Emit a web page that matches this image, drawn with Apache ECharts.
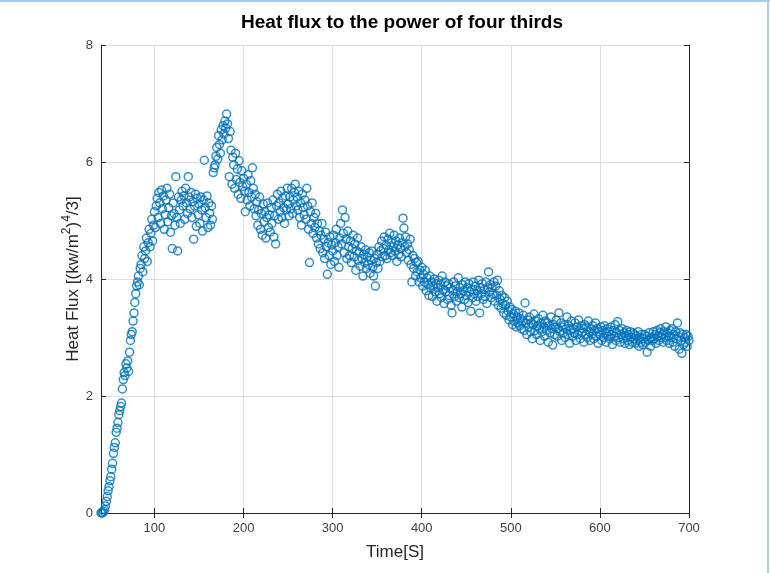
<!DOCTYPE html>
<html>
<head>
<meta charset="utf-8">
<script src="https://cdn.jsdelivr.net/npm/echarts@6/dist/echarts.min.js"></script>
<style>
html,body{margin:0;padding:0;background:#fff;}
#chart{width:770px;height:573px;}
</style>
</head>
<body>
<div id="chart"></div>
<script>
// Sampling: one reading per second, starting at t = 40 s
const timeStart = 40;
const timeStep = 1;

// Heat flux^(4/3) readings, t = 40 .. 700 s (one row = 10 s)
const heatFlux = [
  0.00, 0.01, 0.00, 0.03, 0.06, 0.12, 0.20, 0.28, 0.38, 0.45,
  0.55, 0.62, 0.75, 0.85, 1.02, 1.12, 1.20, 1.38, 1.45, 1.55,
  1.68, 1.75, 1.82, 1.88, 2.12, 2.28, 2.40, 2.35, 2.55, 2.48,
  2.60, 2.42, 2.75, 2.95, 3.05, 3.10, 3.28, 3.42, 3.60, 3.75,
  3.88, 3.95, 4.05, 3.90, 4.18, 4.25, 4.40, 4.12, 4.55, 4.35,
  4.48, 4.70, 4.30, 4.62, 4.85, 4.55, 4.78, 5.02, 4.65, 4.92,
  5.15, 4.88, 5.25, 5.38, 5.05, 5.48, 5.30, 4.95, 5.52, 5.20,
  5.42, 4.85, 5.10, 5.35, 5.55, 4.98, 5.22, 5.45, 4.80, 5.08,
  4.52, 5.30, 5.12, 4.92, 5.75, 5.05, 4.48, 5.40, 5.18, 4.95,
  5.35, 5.50, 5.25, 5.42, 5.02, 5.55, 5.30, 5.12, 5.75, 5.40,
  5.20, 5.48, 5.05, 5.32, 4.68, 5.25, 5.45, 4.90, 5.38, 5.10,
  5.28, 4.95, 5.40, 5.18, 4.82, 5.35, 6.03, 5.22, 5.05, 5.42,
  4.88, 5.30, 5.12, 4.92, 5.25, 5.02, 5.82, 5.90, 5.95, 6.10,
  6.25, 6.05, 6.45, 6.30, 6.15, 6.55, 6.38, 6.62, 6.48, 6.70,
  6.58, 6.82, 6.65, 6.40, 5.75, 6.52, 6.20, 5.62, 6.08, 5.95,
  5.55, 6.15, 5.70, 5.88, 5.45, 6.02, 5.65, 5.38, 5.85, 5.58,
  5.72, 5.50, 5.15, 5.62, 5.35, 5.78, 5.48, 5.25, 5.68, 5.40,
  5.90, 5.55, 5.20, 5.45, 5.08, 5.32, 4.92, 5.18, 5.40, 4.85,
  5.12, 4.75, 5.28, 4.98, 5.15, 4.70, 5.05, 5.30, 4.88, 5.10,
  4.80, 5.22, 4.95, 5.35, 4.72, 5.08, 4.60, 5.25, 5.45, 5.02,
  5.30, 5.15, 5.50, 5.05, 5.38, 5.22, 4.95, 5.42, 5.18, 5.55,
  5.28, 5.08, 5.40, 5.20, 5.55, 5.12, 5.35, 5.48, 5.62, 5.25,
  5.40, 5.18, 5.50, 5.05, 5.30, 4.92, 5.45, 5.22, 5.10, 5.35,
  5.02, 5.55, 5.25, 4.85, 4.28, 5.15, 4.95, 5.30, 4.78, 5.05,
  4.88, 5.12, 4.70, 4.95, 4.60, 4.82, 4.52, 4.75, 4.95, 4.45,
  4.68, 4.35, 4.80, 4.55, 4.08, 4.62, 4.40, 4.72, 4.25, 4.58,
  4.48, 4.75, 4.30, 4.62, 4.85, 4.40, 4.55, 4.20, 4.70, 4.95,
  4.60, 5.18, 4.78, 4.45, 5.05, 4.68, 4.35, 4.82, 4.55, 4.40,
  4.65, 4.28, 4.52, 4.75, 4.38, 4.60, 4.15, 4.48, 4.70, 4.32,
  4.45, 4.22, 4.55, 4.35, 4.05, 4.42, 4.28, 4.50, 4.18, 4.38,
  4.25, 4.45, 4.10, 4.32, 4.48, 4.20, 4.05, 4.35, 3.88, 4.28,
  4.42, 4.18, 4.55, 4.30, 4.48, 4.65, 4.38, 4.52, 4.72, 4.40,
  4.58, 4.35, 4.68, 4.50, 4.78, 4.45, 4.62, 4.40, 4.55, 4.75,
  4.48, 4.65, 4.30, 4.58, 4.42, 4.70, 4.52, 4.38, 4.62, 5.04,
  4.87, 4.55, 4.72, 4.45, 4.60, 4.32, 4.50, 4.68, 4.25, 3.95,
  4.40, 4.18, 4.35, 4.05, 4.28, 4.12, 4.30, 3.95, 4.15, 4.02,
  4.20, 3.88, 4.08, 3.95, 4.15, 3.80, 4.02, 3.90, 3.72, 4.05,
  3.85, 3.95, 3.70, 3.88, 4.00, 3.78, 3.92, 3.62, 3.85, 3.98,
  3.75, 3.90, 3.68, 4.05, 3.82, 3.58, 3.95, 3.78, 3.88, 3.65,
  3.92, 3.72, 3.85, 3.55, 3.42, 3.80, 3.95, 3.70, 3.88, 3.62,
  3.78, 4.02, 3.68, 3.85, 3.75, 3.52, 3.90, 3.80, 3.65, 3.95,
  3.72, 3.85, 3.60, 3.92, 3.78, 3.45, 3.82, 3.68, 3.95, 3.75,
  3.88, 3.62, 3.80, 3.70, 3.98, 3.42, 3.85, 3.75, 3.92, 3.65,
  3.82, 3.70, 3.95, 3.58, 3.85, 4.12, 3.78, 3.90, 3.68, 3.85,
  3.75, 3.95, 3.62, 3.88, 3.72, 3.98, 3.55, 3.80, 3.65, 3.50,
  3.72, 3.58, 3.42, 3.68, 3.55, 3.38, 3.62, 3.45, 3.30, 3.52,
  3.35, 3.48, 3.22, 3.40, 3.28, 3.45, 3.18, 3.35, 3.25, 3.42,
  3.20, 3.32, 3.15, 3.28, 3.38, 3.12, 3.59, 3.25, 3.05, 3.30,
  3.18, 3.35, 3.10, 3.25, 2.98, 3.22, 3.40, 3.12, 3.28, 3.05,
  3.20, 3.32, 3.15, 2.95, 3.25, 3.10, 3.38, 3.18, 3.02, 3.28,
  3.12, 3.25, 2.92, 3.20, 3.08, 3.35, 3.15, 2.87, 3.22, 3.05,
  3.18, 3.30, 3.02, 3.15, 3.42, 3.10, 3.25, 2.95, 3.18, 3.08,
  3.22, 3.00, 3.15, 3.35, 3.05, 3.20, 2.90, 3.12, 3.28, 3.02,
  3.15, 3.08, 3.25, 2.95, 3.18, 3.05, 3.30, 3.12, 2.98, 3.20,
  3.08, 3.15, 2.92, 3.22, 3.05, 3.18, 3.00, 3.28, 3.10, 2.95,
  3.15, 3.05, 3.20, 2.98, 3.12, 3.25, 3.02, 3.15, 2.90, 3.10,
  3.05, 3.18, 2.95, 3.12, 3.00, 3.20, 3.08, 2.92, 3.15, 3.02,
  3.10, 2.98, 3.18, 3.05, 2.88, 3.12, 3.02, 3.22, 2.95, 3.08,
  3.27, 3.00, 3.12, 2.92, 3.05, 3.15, 2.98, 3.08, 2.90, 3.02,
  3.12, 2.95, 3.05, 2.88, 3.10, 3.00, 2.92, 3.08, 2.98, 3.05,
  2.90, 3.02, 2.95, 3.10, 2.85, 3.00, 2.92, 3.05, 2.88, 2.98,
  3.05, 2.92, 3.02, 2.75, 2.95, 3.08, 2.98, 2.85, 3.00, 2.95,
  3.10, 2.98, 3.05, 2.90, 3.12, 3.02, 2.95, 3.08, 3.15, 3.00,
  3.05, 2.92, 3.10, 3.00, 3.18, 2.95, 3.08, 3.02, 2.90, 3.12,
  3.00, 3.15, 2.92, 3.05, 2.85, 3.10, 2.98, 3.25, 3.02, 2.80,
  3.08, 2.95, 2.73, 3.05, 2.88, 3.00, 2.92, 3.05, 2.85, 3.02,
  2.95
];

const xTickValues = [100, 200, 300, 400, 500, 600, 700];
const xMin = 40, xMax = 700;
const yMin = 0, yMax = 8, yStep = 2;

const titleText = 'Heat flux to the power of four thirds';
const xName = 'Time[S]';
const yName = 'Heat Flux [(kw/m{s|2}){s|4}/3]';

const points = heatFlux.map((v, i) => [timeStart + i * timeStep, v]);

const axisColor = '#262626';
const gridColor = '#dedede';
const labelColor = '#404040';
const font = 'Liberation Sans, Arial, Helvetica, sans-serif';

const chart = echarts.init(document.getElementById('chart'), null, {renderer: 'canvas'});
chart.setOption({
  backgroundColor: '#ffffff',
  animation: false,
  title: {
    text: titleText,
    left: 397,
    textAlign: 'center',
    top: 8,
    textStyle: {fontFamily: font, fontSize: 19, fontWeight: 'bold', color: '#000'}
  },
  grid: {left: 101, right: 81, top: 45, bottom: 60, show: false},
  xAxis: [
    {
      type: 'value', min: xMin, max: xMax, position: 'bottom',
      name: xName, nameLocation: 'middle', nameGap: 31, nameMoveOverlap: false,
      nameTextStyle: {fontFamily: font, fontSize: 17, color: axisColor},
      axisLine: {show: true, lineStyle: {color: axisColor, width: 1}},
      axisTick: {show: true, inside: true, length: 5, customValues: xTickValues, lineStyle: {color: axisColor}},
      axisLabel: {customValues: xTickValues, color: labelColor, fontFamily: font, fontSize: 13, margin: 9},
      splitLine: {show: true, lineStyle: {color: gridColor, width: 1}}
    },
    {
      type: 'value', min: xMin, max: xMax, position: 'top',
      axisLine: {show: true, lineStyle: {color: axisColor, width: 1}},
      axisTick: {show: true, inside: true, length: 5, customValues: xTickValues, lineStyle: {color: axisColor}},
      axisLabel: {show: false},
      splitLine: {show: false}
    }
  ],
  yAxis: [
    {
      type: 'value', min: yMin, max: yMax, interval: yStep, position: 'left',
      name: yName, nameLocation: 'middle', nameGap: 16, nameMoveOverlap: false,
      nameTextStyle: {
        fontFamily: font, fontSize: 17, color: axisColor, lineHeight: 24,
        rich: {s: {fontFamily: font, fontSize: 12, color: axisColor, lineHeight: 12, verticalAlign: 'top'}}
      },
      axisLine: {show: true, lineStyle: {color: axisColor, width: 1}},
      axisTick: {show: true, inside: true, length: 5, lineStyle: {color: axisColor}},
      axisLabel: {color: labelColor, fontFamily: font, fontSize: 13, margin: 8},
      splitLine: {show: true, lineStyle: {color: gridColor, width: 1}}
    },
    {
      type: 'value', min: yMin, max: yMax, interval: yStep, position: 'right',
      axisLine: {show: true, lineStyle: {color: axisColor, width: 1}},
      axisTick: {show: true, inside: true, length: 5, lineStyle: {color: axisColor}},
      axisLabel: {show: false},
      splitLine: {show: false}
    }
  ],
  graphic: [
    {type: 'rect', left: 0, top: 0, shape: {width: 770, height: 2}, style: {fill: '#a6cdf0'}, z: 100},
    {type: 'rect', left: 767, top: 0, shape: {width: 2, height: 573}, style: {fill: '#a6cdf0'}, z: 100}
  ],
  series: [{
    type: 'scatter',
    xAxisIndex: 0, yAxisIndex: 0,
    data: points,
    symbol: 'circle',
    symbolSize: 8,
    clip: false,
    itemStyle: {color: 'rgba(0,0,0,0)', borderColor: '#0072BD', borderWidth: 1.5},
    emphasis: {disabled: true}
  }]
});
</script>
</body>
</html>
